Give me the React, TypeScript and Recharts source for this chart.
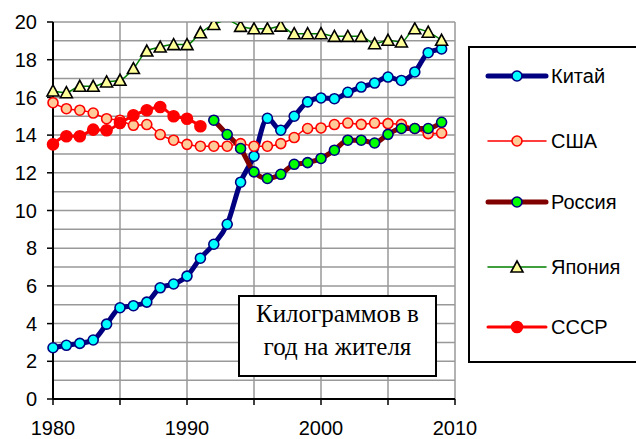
import React from 'react';
import { LineChart, Line, XAxis, YAxis, CartesianGrid, Legend } from 'recharts';

const years = [1980,1981,1982,1983,1984,1985,1986,1987,1988,1989,1990,1991,1992,1993,1994,1995,1996,1997,1998,1999,2000,2001,2002,2003,2004,2005,2006,2007,2008,2009];

const china = [2.72,2.85,2.95,3.13,3.97,4.84,4.95,5.14,5.9,6.1,6.52,7.47,8.21,9.27,11.5,12.88,14.89,14.26,15.0,15.76,15.97,15.93,16.27,16.55,16.76,17.08,16.9,17.35,18.37,18.57];
const usa = [15.72,15.4,15.32,15.17,14.87,14.79,14.52,14.56,14.03,13.73,13.51,13.41,13.41,13.41,13.55,13.41,13.41,13.55,13.87,14.35,14.38,14.56,14.64,14.57,14.64,14.61,14.57,14.35,14.08,14.11];
const russia = [null,null,null,null,null,null,null,null,null,null,null,null,14.79,14.03,13.29,12.05,11.7,11.92,12.45,12.54,12.76,13.2,13.73,13.73,13.58,14.04,14.35,14.35,14.35,14.68];
const japan = [16.34,16.25,16.59,16.59,16.82,16.91,17.53,18.46,18.67,18.8,18.8,19.43,19.87,20.1,19.77,19.64,19.64,19.78,19.38,19.38,19.38,19.24,19.24,19.24,18.85,19.03,18.94,19.64,19.46,19.03];
const ussr = [13.51,13.94,13.94,14.29,14.26,14.64,15.05,15.32,15.49,15.0,14.87,14.47,null,null,null,null,null,null,null,null,null,null,null,null,null,null,null,null,null,null];

const xTicks = [1980,1985,1990,1995,2000,2005,2010];
const yTicks = [0,2,4,6,8,10,12,14,16,18,20];
const yGrid = [0,1,2,3,4,5,6,7,8,9,10,11,12,13,14,15,16,17,18,19,20];

const seriesNames = ['Китай','США','Россия','Япония','СССР'];
const noteLines = ['Килограммов в','год на жителя'];

const data = years.map((y, i) => ({
  year: y,
  china: china[i],
  usa: usa[i],
  russia: russia[i],
  japan: japan[i],
  ussr: ussr[i],
}));

type Style = { key: string; name: string; stroke: string; width: number; marker: 'circle' | 'triangle'; fill: string; mStroke: string; r: number };

const styles: Style[] = [
  { key: 'china', name: seriesNames[0], stroke: '#000080', width: 5, marker: 'circle', fill: '#00FFFF', mStroke: '#000080', r: 5 },
  { key: 'usa', name: seriesNames[1], stroke: '#FF0000', width: 1.5, marker: 'circle', fill: '#FFCC99', mStroke: '#FF0000', r: 5 },
  { key: 'russia', name: seriesNames[2], stroke: '#800000', width: 5, marker: 'circle', fill: '#00FF00', mStroke: '#000080', r: 5 },
  { key: 'japan', name: seriesNames[3], stroke: '#008000', width: 1.5, marker: 'triangle', fill: '#FFFF99', mStroke: '#000000', r: 6 },
  { key: 'ussr', name: seriesNames[4], stroke: '#FF0000', width: 3, marker: 'circle', fill: '#FF0000', mStroke: '#FF0000', r: 5.5 },
];

const FONT = "'Liberation Sans', Arial, sans-serif";

function Marker({ s, cx, cy }: { s: Style; cx: number; cy: number }) {
  if (s.marker === 'triangle') {
    const w = s.r;
    const h = 10;
    const pts = `${cx},${cy - h / 2 - 1} ${cx + w},${cy + h / 2} ${cx - w},${cy + h / 2}`;
    return <polygon points={pts} fill={s.fill} stroke={s.mStroke} strokeWidth={1.6} strokeLinejoin="miter" />;
  }
  return <circle cx={cx} cy={cy} r={s.r} fill={s.fill} stroke={s.mStroke} strokeWidth={1.6} />;
}

function makeDot(s: Style) {
  return (props: any) => {
    const { cx, cy, value, index } = props;
    const v = Array.isArray(value) ? value[1] : value;
    if (cx == null || cy == null || v == null || v > 20) return <g key={`${s.key}-${index}`} />;
    return <g key={`${s.key}-${index}`}><Marker s={s} cx={cx} cy={cy} /></g>;
  };
}

const entryY = [30, 95, 156, 221, 281];

function LegendBox() {
  return (
    <svg width={168} height={318} style={{ display: 'block' }}>
      <rect x={1} y={1} width={180} height={315} fill="#fff" stroke="#000" strokeWidth={2} />
      {styles.map((s, i) => (
        <g key={s.key}>
          <line x1={20} x2={78} y1={entryY[i]} y2={entryY[i]} stroke={s.stroke} strokeWidth={s.width} strokeLinecap="round" />
          <Marker s={s} cx={49} cy={entryY[i]} />
          <text x={83} y={entryY[i]} dy="0.36em" fontSize={20} fontFamily={FONT} fill="#000">{s.name}</text>
        </g>
      ))}
    </svg>
  );
}

export default function App() {
  return (
    <div style={{ position: 'absolute', left: 0, top: 0, width: 636, height: 439, background: '#fff', overflow: 'hidden' }}>
      <LineChart width={636} height={439} data={data} margin={{ top: 22, right: 181, bottom: 0, left: 0 }}>
        <CartesianGrid horizontalValues={yGrid} verticalValues={xTicks} stroke="#999" strokeWidth={1.5} />
        <XAxis
          dataKey="year"
          type="number"
          domain={[1980, 2010]}
          ticks={xTicks}
          tickFormatter={(v: number) => (v % 10 === 0 ? String(v) : '')}
          height={40}
          axisLine={{ stroke: '#000', strokeWidth: 2 }}
          tickLine={{ stroke: '#000', strokeWidth: 1.5 }}
          tickSize={6}
          tickMargin={16}
          tick={{ fontSize: 20, fill: '#000', fontFamily: FONT }}
          interval={0}
        />
        <YAxis
          type="number"
          domain={[0, 20]}
          allowDataOverflow
          ticks={yTicks}
          width={53}
          axisLine={{ stroke: '#000', strokeWidth: 2 }}
          tickLine={{ stroke: '#000', strokeWidth: 1.5 }}
          tickSize={6}
          tickMargin={10}
          tick={{ fontSize: 20, fill: '#000', fontFamily: FONT }}
          interval={0}
        />
        {styles.map((s) => (
          <Line
            key={s.key}
            type="monotone"
            dataKey={s.key}
            name={s.name}
            stroke={s.stroke}
            strokeWidth={s.width}
            dot={makeDot(s)}
            activeDot={false}
            connectNulls={false}
            isAnimationActive={false}
          />
        ))}
        <Legend
          layout="horizontal"
          align="center"
          verticalAlign="middle"
          wrapperStyle={{ position: 'absolute', left: 468, top: 46, width: 168, height: 318 }}
          content={() => <LegendBox />}
        />
      </LineChart>
      <div
        style={{
          position: 'absolute',
          left: 238,
          top: 295,
          width: 195,
          height: 78,
          border: '2px solid #000',
          background: '#fff',
          fontFamily: "'Liberation Serif', 'Times New Roman', serif",
          fontSize: 25,
          lineHeight: '33px',
          textAlign: 'center',
          boxSizing: 'content-box',
        }}
      >
        {noteLines.map((t) => (
          <div key={t}>{t}</div>
        ))}
      </div>
    </div>
  );
}
